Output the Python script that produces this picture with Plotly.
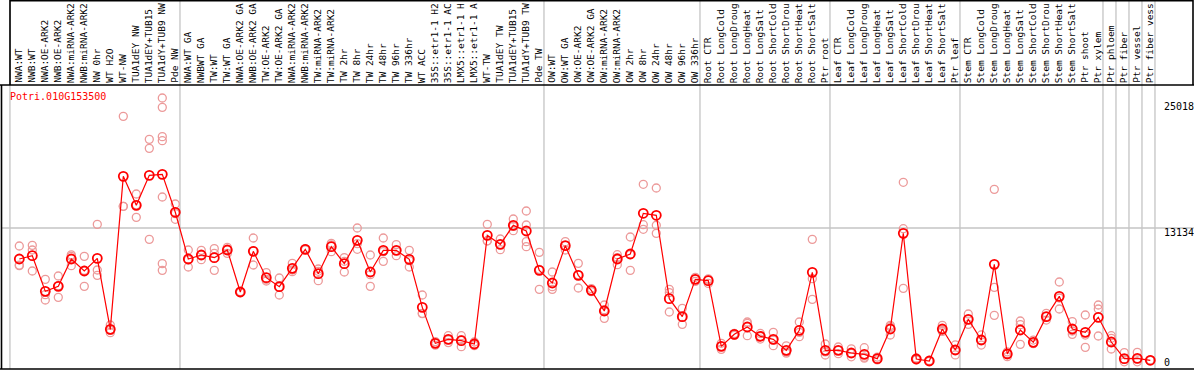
import plotly.graph_objects as go

# ---------------- data ----------------
title = "Potri.010G153500"

categories = [
    "NWA:WT", "NWB:WT", "NWA:OE-ARK2", "NWB:OE-ARK2", "NWA:miRNA-ARK2", "NWB:miRNA-ARK2",
    "NW 0hr", "WT H2O", "WT-NW", "TUA1dEY NW", "TUA1dEY+TUB15", "TUA1dY+TUB9 NW", "Pde NW",
    "NWA:WT GA", "NWBWT GA", "TW:WT", "TW:WT GA", "NWA:OE-ARK2 GA", "NWB:OE-ARK2 GA",
    "TW:OE-ARK2", "TW:OE-ARK2 GA", "NWA:miRNA-ARK2", "NWB:miRNA-ARK2", "TW:miRNA-ARK2",
    "TW:miRNA-ARK2", "TW 2hr", "TW 8hr", "TW 24hr", "TW 48hr", "TW 96hr", "TW 336hr",
    "WT ACC", "35S::etr1-1 H2", "35S::etr1-1 AC", "LMX5::etr1-1 H", "LMX5::etr1-1 A",
    "WT-TW", "TUA1dEY TW", "TUA1dEY+TUB15", "TUA1dY+TUB9 TW", "Pde TW",
    "OW:WT", "OW:WT GA", "OW:OE-ARK2", "OW:OE-ARK2 GA", "OW:miRNA-ARK2", "OW:miRNA-ARK2",
    "OW 2hr", "OW 8hr", "OW 24hr", "OW 48hr", "OW 96hr", "OW 336hr",
    "Root CTR", "Root LongCold", "Root LongDroug", "Root LongHeat", "Root LongSalt",
    "Root ShortCold", "Root ShortDrou", "Root ShortHeat", "Root ShortSalt", "Ptr root",
    "Leaf CTR", "Leaf LongCold", "Leaf LongDroug", "Leaf LongHeat", "Leaf LongSalt",
    "Leaf ShortCold", "Leaf ShortDrou", "Leaf ShortHeat", "Leaf ShortSalt", "Ptr leaf",
    "Stem CTR", "Stem LongCold", "Stem LongDroug", "Stem LongHeat", "Stem LongSalt",
    "Stem ShortCold", "Stem ShortDrou", "Stem ShortHeat", "Stem ShortSalt", "Ptr shoot",
    "Ptr xylem", "Ptr phloem", "Ptr fiber", "Ptr vessel", "Ptr fiber vess",
]

mean_values = [
    10094, 10420, 6925, 7415, 10094, 8918, 10160, 3201, 18196, 15353, 18294, 18392, 14671,
    10094, 10486, 10225, 10976, 6860, 10845, 8265, 7382, 9179, 11042, 8657, 11303, 9637,
    11923, 8820, 10943, 10943, 10061, 5357, 1829, 2221, 2090, 1764, 12413, 11532, 13393,
    12838, 8983,
    7742, 11401, 8493, 7023, 4998, 10094, 10584, 14573, 14377, 6207, 4443, 8101,
    7971, 1535, 2711, 3430, 2515, 2221, 1143, 3103, 8787, 1143,
    1143, 882, 751, 327, 3234, 12609, 294, 98, 3234, 1176,
    4181, 2156, 9571, 784, 3136, 1927, 4443, 6435, 3234, 2907, 4377,
    1960, 327, 360, 167,
]

replicates = [
    [11370, 9440, 9500], [11430, 10976, 8918], [8100, 6600, 6076], [8428, 7480, 6337],
    [10500, 10350, 9441], [10355, 8984, 7415], [13490, 9016, 8493], [3626, 3100, 2874],
    [24075, 15255, 15258], [16464, 15400, 14177], [21821, 20939, 12021],
    [25872, 24957, 22083, 21690, 16170, 9637, 8983], [15484, 14540, 13985],
    [10976, 10000, 9310], [10943, 10490, 10029], [11107, 10650, 8983], [11238, 11040, 10649],
    [6900, 6880, 6800], [12152, 10880, 9506], [8755, 8100, 7938], [8232, 7350, 6566],
    [9669, 9015, 8853], [11100, 11030, 11000], [9114, 8890, 7971], [11630, 11470, 10813],
    [10225, 9870, 8820], [13132, 11600, 11042], [10486, 8560, 7415], [12152, 10810, 9865],
    [11499, 10910, 10420], [10943, 9930, 9310], [6566, 4769, 4740], [2000, 1840, 1650],
    [2580, 2180, 1900], [2580, 2190, 1502], [1960, 1730, 1600], [13490, 11891, 11860],
    [12054, 11530, 11009], [14014, 13300, 12870], [14798, 13426, 11793, 11303],
    [10747, 9080, 7121],
    [8820, 7382, 7121], [11793, 11410, 10976], [9669, 8560, 7252], [7200, 6970, 6900],
    [5586, 5130, 4279], [10518, 10225, 9539], [12250, 10520, 8983], [17414, 13457, 13002],
    [17052, 13400, 12609], [7121, 6800, 4900], [5259, 4380, 3691], [8300, 8100, 7900],
    [8150, 8060, 7700], [1830, 1535, 1240], [2800, 2710, 2620], [3920, 3790, 2580],
    [2800, 2500, 2250], [2907, 2150, 1600], [1580, 980, 870], [3920, 2900, 2482],
    [12021, 8167, 6141], [1764, 990, 686],
    [1470, 1140, 820], [1290, 850, 510], [1404, 470, 380], [480, 300, 200],
    [3593, 3460, 2646], [17609, 13064, 7219], [400, 280, 200], [150, 90, 60],
    [3593, 3110, 3000], [1670, 1170, 690],
    [4704, 4150, 3690], [2650, 2160, 1660], [16921, 7317, 4573], [1000, 830, 520],
    [4018, 3660, 1731], [2150, 1830, 1800], [4770, 4450, 4110], [7840, 6270, 5194],
    [3953, 3040, 2711], [4606, 2640, 1437], [5586, 5194, 2548],
    [2580, 2320, 1274], [915, 262, 20], [950, 300, 20], [200, 167, 150],
]

# last category index of each sample group (group separators drawn after these)
group_ends = [12, 40, 52, 62, 72, 83, 84, 85, 86, 87]
grid_value = 13134
axis_labels = [25018, 13134, 0]

# ---------------- layout helpers (pixel geometry) ----------------
W, H = 1194, 370
X0PX, XSTEP = 19.3, 13.0      # pixel of first category, pixels per category
Y0PX, YPERPX = 362.0, 98.0    # pixel of value 0, value units per pixel


def xd(px):
    return (px - X0PX) / XSTEP


def yd(py):
    return (Y0PX - py) * YPERPX


MONO = "DejaVu Sans Mono, Liberation Mono, monospace"
GRAY = "#c4c4c4"

fig = go.Figure()

# replicate points
rx, ry = [], []
for i, reps in enumerate(replicates):
    for v in reps:
        rx.append(i)
        ry.append(v)
fig.add_trace(go.Scatter(
    x=rx, y=ry, mode="markers",
    marker=dict(symbol="circle-open", size=8, color="#ec9a9a", line=dict(width=1.3)),
    hoverinfo="skip",
))

# mean line
fig.add_trace(go.Scatter(
    x=list(range(len(categories))), y=mean_values, mode="lines+markers",
    line=dict(color="#ff0000", width=1.2),
    marker=dict(symbol="circle-open", size=9, color="#ff0000", line=dict(width=1.8)),
    text=categories, hoverinfo="text+y",
))

shapes = []
# group separators (gray, full height)
sep_positions = [-0.72] + [e + 0.36 for e in group_ends]
for s in sep_positions:
    shapes.append(dict(type="line", xref="x", yref="y", x0=s, x1=s, y0=yd(0), y1=yd(369),
                       line=dict(color=GRAY, width=1.3), layer="below"))
# horizontal gridline
shapes.append(dict(type="line", xref="x", yref="y", x0=xd(1), x1=xd(W), y0=grid_value, y1=grid_value,
                   line=dict(color=GRAY, width=1.3), layer="below"))
# black frame lines
blk = dict(color="#000000", width=1.6)
shapes += [
    dict(type="line", xref="x", yref="y", x0=xd(0), x1=xd(W), y0=yd(85), y1=yd(85), line=blk),
    dict(type="line", xref="x", yref="y", x0=xd(0), x1=xd(W), y0=yd(369), y1=yd(369), line=blk),
    dict(type="line", xref="x", yref="y", x0=xd(10), x1=xd(1193), y0=yd(0.8), y1=yd(0.8), line=blk),
    dict(type="line", xref="x", yref="y", x0=xd(10), x1=xd(10), y0=yd(0), y1=yd(85), line=blk),
    dict(type="line", xref="x", yref="y", x0=xd(1193), x1=xd(1193), y0=yd(0), y1=yd(85), line=blk),
    dict(type="line", xref="x", yref="y", x0=xd(1.5), x1=xd(1.5), y0=yd(85), y1=yd(369), line=blk),
]

annotations = []
# vertical category labels
for i, lab in enumerate(categories):
    annotations.append(dict(
        x=i - 0.08, y=yd(84), xref="x", yref="y", text=lab, textangle=-90,
        xanchor="center", yanchor="bottom", showarrow=False,
        font=dict(family=MONO, size=9.5, color="#000000"), borderpad=0,
    ))
# gene title
annotations.append(dict(
    x=xd(8.5), y=yd(96.7), xref="x", yref="y", text=title, xanchor="left", yanchor="middle",
    showarrow=False, font=dict(family=MONO, size=10, color="#ff0000"), borderpad=0,
))
# right-hand value labels
label_py = {25018: 106.7, 13134: 232.3, 0: 362.0}
for v in axis_labels:
    annotations.append(dict(
        x=xd(1162.5), y=yd(label_py[v]), xref="x", yref="y", text=str(v),
        xanchor="left", yanchor="middle", showarrow=False,
        font=dict(family=MONO, size=10, color="#000000"), borderpad=0,
    ))

fig.update_layout(
    width=W, height=H, margin=dict(l=0, r=0, t=0, b=0, pad=0),
    paper_bgcolor="white", plot_bgcolor="white", showlegend=False,
    xaxis=dict(range=[xd(0), xd(W)], visible=False, fixedrange=True),
    yaxis=dict(range=[yd(H), yd(0)], visible=False, fixedrange=True),
    shapes=shapes, annotations=annotations,
)

fig.write_html(
    "out.html",
    config={"displayModeBar": False},
    post_script="document.body.style.margin='0';document.body.style.padding='0';document.body.style.overflow='hidden';",
)
